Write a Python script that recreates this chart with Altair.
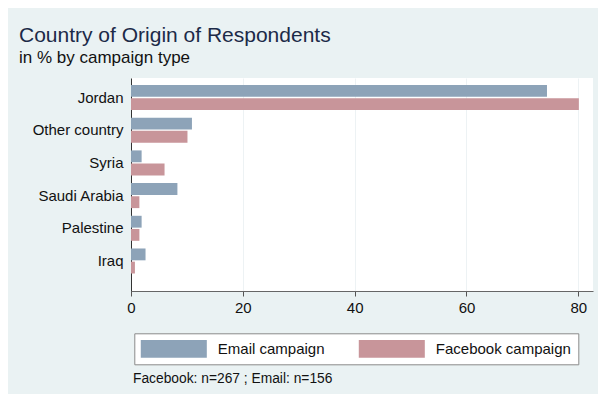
import altair as alt
import pandas as pd

countries = ["Jordan", "Other country", "Syria", "Saudi Arabia", "Palestine", "Iraq"]
email = [74.4, 10.9, 1.9, 8.3, 1.9, 2.6]
facebook = [80.1, 10.1, 6.0, 1.5, 1.5, 0.7]
campaigns = ["Email campaign", "Facebook campaign"]
colors = ["#8DA3B8", "#C8959A"]
x_ticks = [0, 20, 40, 60, 80]
title_text = "Country of Origin of Respondents"
subtitle_text = "in % by campaign type"
note_text = "Facebook: n=267 ; Email: n=156"

rows = []
for c, e, f in zip(countries, email, facebook):
    rows.append({"country": c, "campaign": campaigns[0], "pct": e})
    rows.append({"country": c, "campaign": campaigns[1], "pct": f})
df = pd.DataFrame(rows)

FONT = "Liberation Sans"

bars = alt.Chart(df).mark_bar(opacity=1).encode(
    x=alt.X("pct:Q", scale=alt.Scale(domain=[0, 82.63], nice=False, zero=True),
            axis=alt.Axis(values=x_ticks, title=None, format="d", grid=True,
                          gridColor="#EDF2F4", gridWidth=1, domainColor="#666666",
                          tickColor="#555555", tickSize=5, labelFontSize=15,
                          labelPadding=4, labelColor="#111111", labelFont=FONT,
                          labelFlush=False)),
    y=alt.Y("country:N", sort=countries,
            scale=alt.Scale(paddingInner=0.235, paddingOuter=0.375, align=0.286),
            axis=alt.Axis(title=None, ticks=False, tickSize=0, labelFontSize=15,
                          labelPadding=8, labelColor="#111111", labelFont=FONT,
                          domainColor="#333333", grid=False)),
    yOffset=alt.YOffset("campaign:N", sort=campaigns,
                        scale=alt.Scale(paddingInner=0.1)),
    color=alt.Color("campaign:N", sort=campaigns,
                    scale=alt.Scale(domain=campaigns, range=colors),
                    legend=alt.Legend(title=None, orient="none", legendX=3.3, legendY=255.3,
                                      direction="horizontal", columns=2, columnPadding=33,
                                      symbolType="M-3.75,-1H3.75V1H-3.75Z", symbolSize=310,
                                      symbolOffset=24, symbolStrokeWidth=0, symbolOpacity=1,
                                      labelFontSize=15, labelFont=FONT, labelColor="#111111",
                                      labelOffset=35, padding=6.5, fillColor="white",
                                      strokeColor="#8A8A8A",
                                      labelExpr="datum.label == 'Facebook campaign' ? datum.label + '\u00a0\u00a0\u00a0\u00a0\u00a0\u00a0\u00a0' : datum.label")),
)

note = alt.Chart(pd.DataFrame({"t": [note_text]})).mark_text(
    align="left", baseline="middle", fontSize=13.8, font=FONT, color="#111111"
).encode(x=alt.value(2), y=alt.value(301), text="t:N")

chart = alt.layer(bars, note).properties(
    width=462, height=213,
    padding={"left": 123, "top": 70, "right": 5, "bottom": 103},
    autosize=alt.AutoSizeParams(type="none"),
    title=alt.TitleParams(text=title_text, subtitle=subtitle_text, anchor="start",
                          frame="group", dx=-112, offset=12, fontSize=21,
                          subtitleFontSize=17, font=FONT, subtitleFont=FONT,
                          fontWeight="normal", color="#1C2A48", subtitleColor="#111111",
                          subtitlePadding=4),
).configure(background="#EAF2F3").configure_view(fill="white", stroke=None)

chart.save("out.html", embed_options={"renderer": "svg", "actions": False})
